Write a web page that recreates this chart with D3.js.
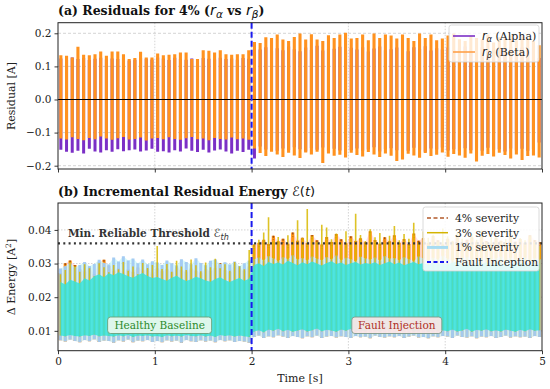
<!DOCTYPE html>
<html>
<head>
<meta charset="utf-8">
<script src="https://cdn.jsdelivr.net/npm/d3@7"></script>
<style>
body { margin: 0; background: #fff; }
svg { display: block; font-family: "DejaVu Serif", serif; }
</style>
</head>
<body>
<div id="chart"></div>
<script>
// ---- panel (a): peak values of each residual cycle, 85 cycles over 0..5 s
var alphaMax = [
  0.124,0.12,0.127,0.122,0.125,0.119,0.123,0.126,0.121,0.124,
  0.122,0.126,0.118,0.12,0.125,0.123,0.121,0.127,0.124,0.119,
  0.126,0.122,0.12,0.124,0.118,0.125,0.123,0.121,0.126,0.122,
  0.124,0.12,0.125,0.123,0.142,0.151,0.158,0.147,0.155,0.149,
  0.16,0.152,0.146,0.157,0.15,0.162,0.148,0.155,0.153,0.159,
  0.147,0.156,0.151,0.158,0.145,0.154,0.16,0.149,0.152,0.157,
  0.15,0.146,0.158,0.153,0.161,0.148,0.155,0.151,0.157,0.149,
  0.154,0.16,0.147,0.152,0.158,0.15,0.156,0.145,0.153,0.159,
  0.151,0.157,0.148,0.155,0.125];
var alphaMin = [
  -0.152,-0.158,-0.161,-0.155,-0.163,-0.149,-0.157,-0.16,-0.153,-0.158,
  -0.15,-0.156,-0.153,-0.151,-0.157,-0.154,-0.149,-0.158,-0.156,-0.16,
  -0.153,-0.157,-0.148,-0.155,-0.159,-0.152,-0.16,-0.154,-0.151,-0.157,
  -0.163,-0.155,-0.159,-0.152,-0.178,-0.142,-0.151,-0.146,-0.155,-0.148,
  -0.153,-0.144,-0.15,-0.157,-0.147,-0.152,-0.145,-0.156,-0.149,-0.154,
  -0.146,-0.153,-0.148,-0.155,-0.151,-0.144,-0.157,-0.15,-0.147,-0.153,
  -0.149,-0.155,-0.146,-0.152,-0.158,-0.148,-0.151,-0.145,-0.154,-0.15,
  -0.156,-0.147,-0.153,-0.149,-0.155,-0.146,-0.152,-0.15,-0.157,-0.148,
  -0.153,-0.149,-0.155,-0.151,-0.13];
var betaMax = [
  0.134,0.132,0.127,0.159,0.135,0.134,0.137,0.145,0.132,0.145,
  0.145,0.137,0.122,0.125,0.144,0.127,0.127,0.139,0.134,0.135,
  0.137,0.142,0.142,0.122,0.122,0.149,0.147,0.142,0.149,0.137,
  0.135,0.137,0.137,0.149,0.174,0.171,0.188,0.186,0.196,0.181,
  0.177,0.189,0.199,0.181,0.197,0.181,0.177,0.194,0.186,0.196,
  0.202,0.184,0.186,0.196,0.179,0.199,0.186,0.196,0.193,0.184,
  0.196,0.186,0.177,0.199,0.186,0.196,0.179,0.184,0.193,0.199,
  0.182,0.177,0.192,0.186,0.181,0.196,0.172,0.188,0.184,0.194,
  0.179,0.191,0.186,0.177,0.164];
var betaMin = [
  -0.118,-0.121,-0.114,-0.119,-0.123,-0.116,-0.12,-0.112,-0.118,-0.122,
  -0.117,-0.113,-0.121,-0.119,-0.115,-0.124,-0.118,-0.116,-0.12,-0.114,
  -0.119,-0.122,-0.117,-0.113,-0.12,-0.118,-0.123,-0.116,-0.119,-0.121,
  -0.115,-0.12,-0.118,-0.122,-0.148,-0.162,-0.171,-0.158,-0.166,-0.174,
  -0.161,-0.169,-0.177,-0.16,-0.166,-0.158,-0.192,-0.163,-0.17,-0.167,
  -0.175,-0.161,-0.168,-0.172,-0.159,-0.166,-0.174,-0.163,-0.17,-0.186,
  -0.181,-0.164,-0.169,-0.176,-0.162,-0.171,-0.167,-0.16,-0.173,-0.165,
  -0.169,-0.176,-0.163,-0.187,-0.17,-0.165,-0.172,-0.161,-0.168,-0.178,
  -0.166,-0.183,-0.171,-0.169,-0.175];

// ---- panel (b): energy per 0.05 s window (100 windows)
var energyLow = [
  0.0072,0.0068,0.0074,0.007,0.0066,0.0073,0.0069,0.0075,0.0067,0.0071,
  0.007,0.0065,0.0072,0.0068,0.0074,0.0066,0.0071,0.0069,0.0073,0.0067,
  0.007,0.0066,0.0072,0.0068,0.0071,0.0065,0.0073,0.0069,0.0067,0.0072,
  0.0068,0.0071,0.0066,0.0073,0.0069,0.0072,0.0067,0.007,0.0068,0.0065,
  0.0082,0.0086,0.0079,0.0084,0.0081,0.0087,0.0083,0.0079,0.0085,0.0082,
  0.0078,0.0084,0.0081,0.0086,0.0079,0.0083,0.0085,0.008,0.0084,0.0082,
  0.0079,0.0085,0.0081,0.0083,0.0078,0.0086,0.0082,0.008,0.0084,0.0081,
  0.0085,0.0079,0.0083,0.0086,0.008,0.0082,0.0078,0.0084,0.0081,0.0085,
  0.0083,0.0079,0.0086,0.0082,0.008,0.0084,0.0078,0.0083,0.0081,0.0085,
  0.0079,0.0082,0.0086,0.008,0.0084,0.0081,0.0083,0.0079,0.0085,0.0082];
var coreLow = [
  0.0086,0.0084,0.0088,0.0085,0.0083,0.0087,0.0085,0.0089,0.0084,0.0086,
  0.0085,0.0083,0.0087,0.0084,0.0088,0.0082,0.0086,0.0085,0.0087,0.0083,
  0.0085,0.0082,0.0087,0.0084,0.0086,0.0083,0.0088,0.0085,0.0084,0.0087,
  0.0083,0.0086,0.0082,0.0088,0.0085,0.0087,0.0083,0.0086,0.0084,0.0082,
  0.0098,0.0102,0.0096,0.0104,0.01,0.0106,0.0099,0.0103,0.0097,0.0101,
  0.0105,0.0098,0.0102,0.0107,0.0099,0.0103,0.0101,0.0097,0.0104,0.01,
  0.0106,0.0098,0.0102,0.0099,0.0105,0.0101,0.0097,0.0103,0.01,0.0106,
  0.0099,0.0102,0.0104,0.0098,0.0101,0.0105,0.0097,0.0103,0.01,0.0102,
  0.0099,0.0104,0.0098,0.0101,0.0106,0.0097,0.0103,0.01,0.0105,0.0099,
  0.0102,0.0098,0.0104,0.0101,0.0097,0.0103,0.0099,0.0105,0.01,0.0102];
var coreHigh = [
  0.0245,0.0238,0.0252,0.0247,0.0241,0.0256,0.025,0.0262,0.0268,0.0259,
  0.0271,0.0265,0.0274,0.0269,0.0262,0.0258,0.0266,0.0272,0.0263,0.0257,
  0.026,0.0254,0.0249,0.0258,0.0264,0.0255,0.0248,0.0253,0.0261,0.0256,
  0.025,0.0246,0.0254,0.0259,0.0251,0.0245,0.0252,0.0257,0.0249,0.0255,
  0.0296,0.0301,0.0293,0.0305,0.0299,0.0303,0.0297,0.0308,0.0302,0.0295,
  0.0304,0.0298,0.0306,0.03,0.0294,0.0302,0.0307,0.0299,0.0303,0.0296,
  0.0301,0.0305,0.0297,0.0302,0.0299,0.0304,0.0296,0.0301,0.0306,0.0298,
  0.0303,0.0295,0.03,0.0305,0.0298,0.0302,0.0296,0.0304,0.0299,0.0301,
  0.0297,0.0303,0.0306,0.0298,0.0301,0.0295,0.0302,0.0299,0.0304,0.0297,
  0.03,0.0303,0.0296,0.0301,0.0298,0.0305,0.0299,0.0302,0.0297,0.03];
var sev1High = [
  0.0285,0.0292,0.0301,0.0288,0.0296,0.0305,0.0293,0.0299,0.0311,0.0302,
  0.0297,0.0318,0.0306,0.0322,0.0309,0.0315,0.0301,0.0312,0.0298,0.0307,
  0.0303,0.0296,0.0309,0.0301,0.0294,0.0313,0.0305,0.0298,0.0316,0.0302,
  0.0295,0.0308,0.0312,0.0299,0.0304,0.0297,0.0306,0.0293,0.0301,0.0309,
  0.0312,0.0318,0.0309,0.0322,0.0315,0.0307,0.0319,0.0313,0.0325,0.0311,
  0.0316,0.0308,0.0321,0.0314,0.031,0.0319,0.0312,0.0324,0.0309,0.0317,
  0.0313,0.0306,0.032,0.0315,0.0311,0.0318,0.0308,0.0322,0.0314,0.0316,
  0.031,0.0319,0.0313,0.0307,0.0321,0.0315,0.0309,0.0317,0.0312,0.0323,
  0.0314,0.0308,0.0318,0.0311,0.032,0.0313,0.0316,0.0309,0.0319,0.0312,
  0.0315,0.0321,0.0308,0.0317,0.0311,0.0314,0.0318,0.031,0.0316,0.0313];
var sev3High = [
  0.0268,0.0281,0.0305,0.0292,0.0276,0.0298,0.0286,0.0263,0.0301,0.0289,
  0.0274,0.0296,0.0283,0.0305,0.0279,0.0291,0.0268,0.0302,0.0287,0.0296,
  0.0352,0.0284,0.0299,0.0276,0.0308,0.0291,0.0281,0.0312,0.0295,0.0277,
  0.0303,0.0289,0.0314,0.0286,0.0298,0.0279,0.0305,0.0292,0.0283,0.034,
  0.0358,0.0371,0.0392,0.0438,0.0366,0.0379,0.0353,0.0384,0.0368,0.0429,
  0.0376,0.0462,0.0381,0.0364,0.0415,0.0407,0.0372,0.0389,0.0361,0.0396,
  0.0373,0.0448,0.0385,0.0367,0.0402,0.0378,0.0391,0.0359,0.0383,0.0412,
  0.0369,0.0388,0.0374,0.0421,0.0362,0.0395,0.0377,0.0386,0.0365,0.0404,
  0.0381,0.0368,0.0392,0.0374,0.0359,0.0387,0.0371,0.0398,0.0363,0.0379,
  0.0385,0.0366,0.0373,0.0391,0.0358,0.0376,0.0369,0.0383,0.0361,0.0352];
var sev4High = [
  0.0272,0.0301,0.0309,0.0296,0.0283,0.0276,0.0289,0.0268,0.0305,0.0311,
  0.0293,0.0278,0.0286,0.0271,0.0282,0.0275,0.0288,0.0279,0.0284,0.027,
  0.0286,0.0277,0.0283,0.0274,0.0289,0.0281,0.0276,0.0285,0.0279,0.0273,
  0.0284,0.0278,0.0287,0.0302,0.0281,0.0276,0.0299,0.0285,0.0279,0.0291,
  0.0356,0.0362,0.0371,0.0358,0.0383,0.0366,0.0374,0.0359,0.0392,0.0368,
  0.0377,0.0361,0.0385,0.0369,0.0357,0.0379,0.0364,0.0388,0.0372,0.036,
  0.0381,0.0367,0.0375,0.0363,0.0396,0.037,0.0359,0.0378,0.0366,0.0384,
  0.0362,0.0373,0.0358,0.0389,0.0368,0.0376,0.0361,0.0382,0.0369,0.0357,
  0.0374,0.0365,0.0386,0.036,0.0371,0.0378,0.0363,0.0381,0.0367,0.0359,
  0.0376,0.0368,0.0362,0.0379,0.0365,0.0373,0.0361,0.0384,0.037,0.0364];

var faultTime = 2.0;
var threshold = 0.036;
var resTicks = [-0.2, -0.1, 0, 0.1, 0.2];
var energyTicks = [0.01, 0.02, 0.03, 0.04];
var timeTicks = [0, 1, 2, 3, 4, 5];

var svg = d3.select("#chart").append("svg")
    .attr("width", 550)
    .attr("height", 389);

var x = d3.scaleLinear().domain([0, 5]).range([58, 542]);
var yRes = d3.scaleLinear().domain([-0.21, 0.232]).range([169, 22.7]);
var yEn = d3.scaleLinear().domain([0.0041, 0.048]).range([350.7, 203]);

var defs = svg.append("defs");
defs.append("clipPath").attr("id", "clipA").append("rect")
    .attr("x", 58).attr("y", 22.7).attr("width", 484).attr("height", 146.3);
defs.append("clipPath").attr("id", "clipB").append("rect")
    .attr("x", 58).attr("y", 203).attr("width", 484).attr("height", 147.7);

function fmt(f) {
  return function(d) { return d3.format(f)(d); };
}

function styleAxis(g) {
  g.select(".domain").remove();
  g.selectAll(".tick line").attr("stroke", "#222").attr("stroke-width", 0.9);
  g.selectAll("text").attr("font-family", "DejaVu Serif").attr("font-size", 10.5).attr("fill", "#222");
}

// math-style italic run inside a text element
function mathRun(t, main, sub, size, subSize) {
  t.append("tspan").attr("font-family", "DejaVu Sans").attr("font-style", "italic")
      .attr("font-weight", "normal").attr("font-size", size).text(main);
  t.append("tspan").attr("font-family", "DejaVu Sans").attr("font-style", "italic")
      .attr("font-weight", "normal").attr("font-size", subSize).attr("dy", size * 0.22).text(sub);
}

// ================= panel (a) =================
var gA = svg.append("g");

gA.selectAll(".hgrid").data(resTicks).enter().append("line")
    .attr("x1", 58).attr("x2", 542)
    .attr("y1", function(d) { return yRes(d); }).attr("y2", function(d) { return yRes(d); })
    .attr("stroke", "#c9c9c9").attr("stroke-width", 0.8).attr("stroke-dasharray", "3,2");
gA.selectAll(".vgrid").data([1, 2, 3, 4]).enter().append("line")
    .attr("x1", function(d) { return x(d); }).attr("x2", function(d) { return x(d); })
    .attr("y1", 22.7).attr("y2", 169)
    .attr("stroke", "#c9c9c9").attr("stroke-width", 0.8).attr("stroke-dasharray", "1.5,1.5");

var period = 5 / betaMax.length;
var cycles = betaMax.map(function(d, i) {
  return {t: (i + 0.5) * period, aMax: alphaMax[i], aMin: alphaMin[i], bMax: d, bMin: betaMin[i]};
});

var plotA = gA.append("g").attr("clip-path", "url(#clipA)");
plotA.selectAll(".alpha").data(cycles).enter().append("line")
    .attr("x1", function(d) { return x(d.t); }).attr("x2", function(d) { return x(d.t); })
    .attr("y1", function(d) { return yRes(d.aMin); }).attr("y2", function(d) { return yRes(d.aMax); })
    .attr("stroke", "#7b2fc6").attr("stroke-width", 3);
plotA.selectAll(".beta").data(cycles).enter().append("line")
    .attr("x1", function(d) { return x(d.t); }).attr("x2", function(d) { return x(d.t); })
    .attr("y1", function(d) { return yRes(d.bMin); }).attr("y2", function(d) { return yRes(d.bMax); })
    .attr("stroke", "#ff921f").attr("stroke-width", 3.1);

gA.append("line")
    .attr("x1", 58).attr("x2", 542).attr("y1", yRes(0)).attr("y2", yRes(0))
    .attr("stroke", "#000").attr("stroke-width", 1.2);
gA.append("line")
    .attr("x1", x(faultTime)).attr("x2", x(faultTime)).attr("y1", 22.7).attr("y2", 169)
    .attr("stroke", "#1a1aee").attr("stroke-width", 2).attr("stroke-dasharray", "6,3");

gA.append("g").attr("transform", "translate(58,0)")
    .call(d3.axisLeft(yRes).tickValues(resTicks).tickFormat(fmt(".1f")).tickSize(3.5).tickPadding(3).tickSizeOuter(0))
    .call(styleAxis);
gA.append("g").attr("transform", "translate(0,169)")
    .call(d3.axisBottom(x).tickValues(timeTicks).tickFormat("").tickSize(3.5).tickSizeOuter(0))
    .call(styleAxis);
gA.append("rect").attr("x", 58).attr("y", 22.7).attr("width", 484).attr("height", 146.3)
    .attr("fill", "none").attr("stroke", "#222").attr("stroke-width", 1);

// title (a)
var tA = svg.append("text").attr("x", 58).attr("y", 15)
    .attr("font-size", 12.5).attr("font-weight", "bold").attr("fill", "#111");
tA.append("tspan").text("(a) Residuals for 4% (");
mathRun(tA, "r", "α", 14.5, 10.5);
tA.append("tspan").attr("dy", -14.5 * 0.22).text("  vs  ");
mathRun(tA, "r", "β", 14.5, 10.5);
tA.append("tspan").attr("dy", -14.5 * 0.22).text(")");

svg.append("text").attr("transform", "translate(15,96) rotate(-90)")
    .attr("text-anchor", "middle").attr("font-size", 11).attr("fill", "#222").text("Residual [A]");

// legend (a)
var legA = svg.append("g");
legA.append("rect").attr("x", 449).attr("y", 25).attr("width", 90).attr("height", 37).attr("rx", 2.5)
    .attr("fill", "#fff").attr("fill-opacity", 0.8).attr("stroke", "#d0d0d0").attr("stroke-width", 0.8);
var legAItems = [{sym: "α", name: " (Alpha)", color: "#7b2fc6"}, {sym: "β", name: " (Beta)", color: "#ffa04a"}];
legAItems.forEach(function(d, i) {
  var yy = 36 + i * 16;
  legA.append("line").attr("x1", 453).attr("x2", 475).attr("y1", yy).attr("y2", yy)
      .attr("stroke", d.color).attr("stroke-width", 1.6);
  var t = legA.append("text").attr("x", 482).attr("y", yy + 3.8).attr("font-size", 11).attr("fill", "#222");
  mathRun(t, "r", d.sym, 11.5, 8);
  t.append("tspan").attr("dy", -11.5 * 0.22).text(d.name);
});

// ================= panel (b) =================
var gB = svg.append("g");
gB.selectAll(".hgridB").data(energyTicks).enter().append("line")
    .attr("x1", 58).attr("x2", 542)
    .attr("y1", function(d) { return yEn(d); }).attr("y2", function(d) { return yEn(d); })
    .attr("stroke", "#c9c9c9").attr("stroke-width", 0.8).attr("stroke-dasharray", "1.5,1.5");
gB.selectAll(".vgridB").data([1, 2, 3, 4]).enter().append("line")
    .attr("x1", function(d) { return x(d); }).attr("x2", function(d) { return x(d); })
    .attr("y1", 203).attr("y2", 350.7)
    .attr("stroke", "#c9c9c9").attr("stroke-width", 0.8).attr("stroke-dasharray", "1.5,1.5");

var win = 5 / sev1High.length;
var energy = sev1High.map(function(d, i) {
  return {t: (i + 0.5) * win, lo: energyLow[i], cLo: coreLow[i], cHi: coreHigh[i],
          s1: d, s3: sev3High[i], s4: sev4High[i]};
});

var plotB = gB.append("g").attr("clip-path", "url(#clipB)");

function envelope(key) {
  return d3.area().x(function(d) { return x(d.t); })
      .y0(function(d) { return yEn(d.lo); })
      .y1(function(d) { return yEn(d[key]); });
}
function strokes(key, lowKey, color, width, opacity) {
  plotB.append("g").selectAll("line").data(energy).enter().append("line")
      .attr("x1", function(d) { return x(d.t); }).attr("x2", function(d) { return x(d.t); })
      .attr("y1", function(d) { return yEn(d[lowKey]); }).attr("y2", function(d) { return yEn(d[key]); })
      .attr("stroke", color).attr("stroke-width", width).attr("stroke-opacity", opacity);
}

// 4% severity
plotB.append("path").datum(energy).attr("d", envelope("s4")).attr("fill", "#ffc6d2").attr("fill-opacity", 0.55);
strokes("s4", "lo", "#ff9410", 3.2, 1);
plotB.append("g").selectAll("line").data(energy).enter().append("line")
    .attr("x1", function(d) { return x(d.t); }).attr("x2", function(d) { return x(d.t); })
    .attr("y1", function(d) { return yEn(d.s4); }).attr("y2", function(d) { return yEn(d.s4) + 4; })
    .attr("stroke", "#9a4a20").attr("stroke-width", 1.4).attr("stroke-dasharray", "2,1.5");
// 1% severity
plotB.append("path").datum(energy).attr("d", envelope("s1")).attr("fill", "#c8f6f6").attr("fill-opacity", 0.7);
strokes("s1", "lo", "#9ec6f2", 3, 0.9);
// 3% severity
strokes("s3", "cLo", "#d8b800", 1.6, 0.85);
// dense core of the 1% trace
plotB.append("path").datum(energy)
    .attr("d", d3.area().x(function(d) { return x(d.t); })
        .y0(function(d) { return yEn(d.cLo); }).y1(function(d) { return yEn(d.cHi); }))
    .attr("fill", "#2fe3dc").attr("fill-opacity", 0.82);

// threshold
gB.append("line").attr("x1", 58).attr("x2", 542).attr("y1", yEn(threshold)).attr("y2", yEn(threshold))
    .attr("stroke", "#333").attr("stroke-width", 2.2).attr("stroke-dasharray", "2,3.3");
var thT = gB.append("text").attr("x", 68).attr("y", yEn(threshold) - 6)
    .attr("font-size", 10.5).attr("font-weight", "bold").attr("fill", "#333");
thT.append("tspan").text("Min. Reliable Threshold ");
thT.append("tspan").attr("font-family", "DejaVu Sans").attr("font-weight", "normal").attr("font-size", 11.5).text("ℰ");
thT.append("tspan").attr("font-family", "DejaVu Sans").attr("font-style", "italic").attr("font-weight", "normal")
    .attr("font-size", 8).attr("dy", 2.5).text("th");

// fault line
gB.append("line")
    .attr("x1", x(faultTime)).attr("x2", x(faultTime)).attr("y1", 203).attr("y2", 350.7)
    .attr("stroke", "#1a1aee").attr("stroke-width", 2).attr("stroke-dasharray", "6,3");

// annotation boxes
var notes = [
  {label: "Healthy Baseline", t: 1.05, fill: "#eaf8ee", stroke: "#6aa07a", color: "#2b8a2b", w: 104},
  {label: "Fault Injection", t: 3.5, fill: "#fde6e6", stroke: "#7f9a8a", color: "#b0301e", w: 90}
];
notes.forEach(function(n) {
  var cx = x(n.t);
  gB.append("rect").attr("x", cx - n.w / 2).attr("y", 317).attr("width", n.w).attr("height", 16.5).attr("rx", 3)
      .attr("fill", n.fill).attr("fill-opacity", 0.92).attr("stroke", n.stroke).attr("stroke-width", 0.9);
  gB.append("text").attr("x", cx).attr("y", 329).attr("text-anchor", "middle")
      .attr("font-size", 10.5).attr("fill", n.color).text(n.label);
});

gB.append("g").attr("transform", "translate(58,0)")
    .call(d3.axisLeft(yEn).tickValues(energyTicks).tickFormat(fmt(".2f")).tickSize(3.5).tickPadding(3).tickSizeOuter(0))
    .call(styleAxis);
gB.append("g").attr("transform", "translate(0,350.7)")
    .call(d3.axisBottom(x).tickValues(timeTicks).tickFormat(fmt("d")).tickSize(3.5).tickPadding(3).tickSizeOuter(0))
    .call(styleAxis);
gB.append("rect").attr("x", 58).attr("y", 203).attr("width", 484).attr("height", 147.7)
    .attr("fill", "none").attr("stroke", "#222").attr("stroke-width", 1);

// title (b)
var tB = svg.append("text").attr("x", 58).attr("y", 196)
    .attr("font-size", 12.5).attr("font-weight", "bold").attr("fill", "#111");
tB.append("tspan").text("(b) Incremental Residual Energy ");
tB.append("tspan").attr("font-family", "DejaVu Sans").attr("font-weight", "normal").attr("font-size", 13).text("ℰ(");
tB.append("tspan").attr("font-family", "DejaVu Sans").attr("font-style", "italic").attr("font-weight", "normal").attr("font-size", 13).text("t");
tB.append("tspan").attr("font-family", "DejaVu Sans").attr("font-weight", "normal").attr("font-size", 13).text(")");

var yl = svg.append("text").attr("transform", "translate(15,277) rotate(-90)")
    .attr("text-anchor", "middle").attr("font-size", 11).attr("fill", "#222");
yl.append("tspan").text("Δ Energy [A");
yl.append("tspan").attr("font-size", 7.5).attr("dy", -4).text("2");
yl.append("tspan").attr("dy", 4).text("]");

svg.append("text").attr("x", 300).attr("y", 382).attr("text-anchor", "middle")
    .attr("font-size", 11).attr("fill", "#222").text("Time [s]");

// legend (b)
var legB = svg.append("g");
legB.append("rect").attr("x", 423).attr("y", 207).attr("width", 116).attr("height", 64).attr("rx", 2.5)
    .attr("fill", "#fff").attr("fill-opacity", 0.85).attr("stroke", "#d0d0d0").attr("stroke-width", 0.8);
var legBItems = [
  {name: "4% severity", color: "#b3592a", width: 1.5, dash: "4,2.5"},
  {name: "3% severity", color: "#d4b400", width: 1.5, dash: null},
  {name: "1% severity", color: "#a8dcf2", width: 3, dash: null},
  {name: "Fault Inception", color: "#1a1aee", width: 2, dash: "4,2.5"}
];
legBItems.forEach(function(d, i) {
  var yy = 218 + i * 14.7;
  legB.append("line").attr("x1", 427).attr("x2", 448).attr("y1", yy).attr("y2", yy)
      .attr("stroke", d.color).attr("stroke-width", d.width).attr("stroke-dasharray", d.dash);
  legB.append("text").attr("x", 455).attr("y", yy + 3.8).attr("font-size", 10.8).attr("fill", "#222").text(d.name);
});
</script>
</body>
</html>
